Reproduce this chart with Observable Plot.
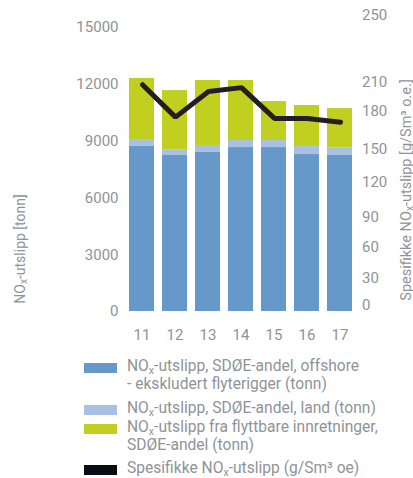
<!DOCTYPE html>
<html><head><meta charset="utf-8">
<script src="https://cdn.jsdelivr.net/npm/d3@7"></script>
<script src="https://cdn.jsdelivr.net/npm/@observablehq/plot@0.6"></script>
<style>
body{margin:0;background:#fff;font-family:Roboto,sans-serif;}
#wrap{position:relative;width:413px;height:478px;overflow:hidden;}
#wrap svg{position:absolute;left:0;top:0;overflow:visible;}
.item{position:absolute;left:84px;font-size:15.6px;line-height:18.3px;color:#8f9397;}
.sw{position:absolute;left:0;width:33px;height:10px;}
.tx{position:absolute;left:43px;white-space:nowrap;}
sub{font-size:10.5px;vertical-align:-3px;line-height:0;}
</style></head><body><div id="wrap"></div>
<script>
const years = ["11","12","13","14","15","16","17"];
const offshore = [8720, 8240, 8400, 8660, 8660, 8290, 8240];
const land = [320, 300, 320, 370, 370, 420, 400];
const mobile = [3270, 3130, 3480, 3170, 2060, 2170, 2080];
const specific = [207, 175, 200, 204, 174, 174, 171];
const leftTicks = [0, 3000, 6000, 9000, 12000, 15000];
const rightTicks = [0, 30, 60, 90, 120, 150, 180, 210, 250];
// the right axis of the original is unevenly spaced: where each right tick sits, in left-axis units
const rightTickAtLeft = [320, 1770, 3420, 5000, 6850, 8590, 10600, 12130, 15670];
const seriesKeys = ["offshore", "land", "mobile"];
const seriesColors = ["#6699c9", "#a8c1e2", "#c1cf21"];
const lineColor = "#231f20";
const textColor = "#8f9397";

const rows = [];
years.forEach((y, i) => {
  rows.push({year: y, series: "offshore", value: offshore[i]});
  rows.push({year: y, series: "land", value: land[i]});
  rows.push({year: y, series: "mobile", value: mobile[i]});
});
const lineRows = years.map((y, i) => ({year: y, v: specific[i]}));
const rightToLeft = d3.scaleLinear().domain(rightTicks).range(rightTickAtLeft);

const common = {
  width: 413, height: 350,
  marginLeft: 123, marginRight: 54.5, marginTop: 27, marginBottom: 39,
  style: {fontFamily: "Roboto, sans-serif", fontSize: "15px", color: textColor, background: "transparent"}
};
const xScale = {domain: years, paddingInner: 0.24, paddingOuter: 0.12};

const p1 = Plot.plot({
  ...common,
  x: {...xScale, axis: null},
  y: {domain: [0, 15000], axis: null},
  color: {domain: seriesKeys, range: seriesColors},
  marks: [
    Plot.barY(rows, {x: "year", y: "value", fill: "series", order: seriesKeys}),
    Plot.axisY(leftTicks, {anchor: "left", tickSize: 0, tickPadding: 5, label: null, tickFormat: d => String(d), fill: textColor}),
    Plot.axisX(years, {anchor: "bottom", tickSize: 0, tickPadding: 18, label: null, fill: textColor})
  ]
});

const p2 = Plot.plot({
  ...common,
  x: {...xScale, axis: null},
  y: {domain: [0, 15000], transform: rightToLeft, axis: null},
  marks: [
    Plot.lineY(lineRows, {x: "year", y: "v", stroke: lineColor, strokeWidth: 5, strokeLinecap: "round", strokeLinejoin: "miter"}),
    Plot.axisY(rightTicks, {anchor: "right", tickSize: 0, tickPadding: 3, label: null, tickFormat: d => String(d), fill: textColor})
  ]
});

const wrap = document.getElementById("wrap");
wrap.appendChild(p1);
wrap.appendChild(p2);

// axis titles
const s1 = d3.select(p1);
const lt = s1.append("text").attr("transform", "translate(25,249) rotate(-90)")
  .attr("text-anchor", "middle").attr("fill", textColor).style("font-size", "14px");
lt.append("tspan").text("NO");
lt.append("tspan").text("x").style("font-size", "10px").attr("dy", 2);
lt.append("tspan").text("-utslipp [tonn]").attr("dy", -2);

const rt = s1.append("text").attr("transform", "translate(411,190) rotate(-90)")
  .attr("text-anchor", "middle").attr("fill", textColor).style("font-size", "14.5px");
rt.append("tspan").text("Spesifikke NO");
rt.append("tspan").text("x").style("font-size", "10px").attr("dy", 2);
rt.append("tspan").text("-utslipp [g/Sm³ o.e.]").attr("dy", -2);

// legend
const legendItems = [
  {top: 357, sw: 6, color: seriesColors[0], html: "NO<sub>x</sub>-utslipp, SDØE-andel, offshore<br>- ekskludert flyterigger (tonn)"},
  {top: 399, sw: 6, color: seriesColors[1], html: "NO<sub>x</sub>-utslipp, SDØE-andel, land (tonn)"},
  {top: 417.5, sw: 6.5, color: seriesColors[2], html: "NO<sub>x</sub>-utslipp fra flyttbare innretninger,<br>SDØE-andel (tonn)"},
  {top: 459, sw: 6, color: "#0b0b14", html: "Spesifikke NO<sub>x</sub>-utslipp (g/Sm³ oe)"}
];
legendItems.forEach(it => {
  const d = document.createElement("div");
  d.className = "item";
  d.style.top = it.top + "px";
  d.innerHTML = `<div class="sw" style="top:${it.sw}px;background:${it.color}"></div><div class="tx">${it.html}</div>`;
  wrap.appendChild(d);
});
</script>
</body></html>
